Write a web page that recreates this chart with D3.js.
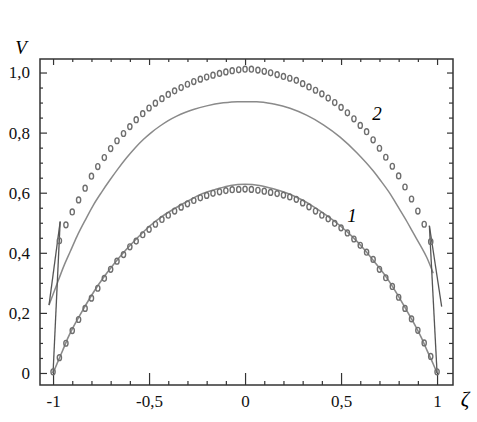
<!DOCTYPE html>
<html><head><meta charset="utf-8">
<script src="https://cdn.jsdelivr.net/npm/d3@7"></script>
<style>body{margin:0;background:#fff}svg{display:block}
svg text{font-family:"Liberation Serif","Times New Roman",Times,Tinos,serif}</style>
</head><body>
<script>
// ---- data ----
const xTicks = [-1, -0.5, 0, 0.5, 1];
const xTickLabels = ["-1", "-0,5", "0", "0,5", "1"];
const yTicks = [0, 0.2, 0.4, 0.6, 0.8, 1.0];
const yTickLabels = ["0", "0,2", "0,4", "0,6", "0,8", "1,0"];

// circle series 1 (lower)
const zeta1 = [-1.000,-0.967,-0.933,-0.900,-0.867,-0.833,-0.800,-0.767,-0.733,-0.700,-0.667,-0.633,-0.600,-0.567,-0.533,-0.500,-0.467,-0.433,-0.400,-0.367,-0.333,-0.300,-0.267,-0.233,-0.200,-0.167,-0.133,-0.100,-0.067,-0.033,0.000,
0.033,0.067,0.100,0.133,0.167,0.200,0.233,0.267,0.300,0.333,0.367,0.400,0.433,0.467,0.500,0.533,0.567,0.600,0.633,0.667,0.700,0.733,0.767,0.800,0.833,0.867,0.900,0.933,0.967,1.000];
const v1 = [0.004,0.051,0.099,0.141,0.178,0.215,0.249,0.282,0.315,0.345,0.372,0.394,0.420,0.439,0.460,0.478,0.495,0.511,0.525,0.539,0.552,0.563,0.574,0.583,0.591,0.598,0.603,0.607,0.610,0.611,0.612,
0.611,0.608,0.605,0.601,0.597,0.592,0.586,0.578,0.566,0.553,0.539,0.525,0.513,0.498,0.483,0.466,0.446,0.425,0.402,0.378,0.345,0.317,0.288,0.252,0.215,0.180,0.142,0.100,0.055,0.004];

// circle series 2 (upper)
const zeta2 = [-0.967,-0.933,-0.900,-0.867,-0.833,-0.800,-0.767,-0.733,-0.700,-0.667,-0.633,-0.600,-0.567,-0.533,-0.500,-0.467,-0.433,-0.400,-0.367,-0.333,-0.300,-0.267,-0.233,-0.200,-0.167,-0.133,-0.100,-0.067,-0.033,0.000,
0.033,0.067,0.100,0.133,0.167,0.200,0.233,0.267,0.300,0.333,0.367,0.400,0.433,0.467,0.500,0.533,0.567,0.600,0.633,0.667,0.700,0.733,0.767,0.800,0.833,0.867,0.900,0.933,0.967];
const v2 = [0.440,0.493,0.536,0.576,0.615,0.655,0.687,0.717,0.747,0.773,0.797,0.820,0.843,0.863,0.882,0.898,0.913,0.927,0.939,0.950,0.961,0.970,0.978,0.985,0.991,0.997,1.002,1.006,1.009,1.011,
1.011,1.008,1.004,0.999,0.993,0.987,0.981,0.974,0.963,0.952,0.941,0.929,0.915,0.900,0.884,0.866,0.846,0.824,0.803,0.776,0.748,0.718,0.688,0.656,0.619,0.579,0.539,0.495,0.437];

// solid curve 1
const zetaL1 = [-1.0,-0.98,-0.95,-0.92,-0.88,-0.84,-0.79,-0.74,-0.68,-0.62,-0.56,-0.495,-0.43,-0.36,-0.29,-0.22,-0.147,-0.075,0,0.075,0.147,0.22,0.29,0.36,0.43,0.495,0.56,0.62,0.68,0.74,0.79,0.84,0.88,0.92,0.95,0.98,1.0];
const vL1 = [0,0.03,0.075,0.12,0.17,0.215,0.268,0.315,0.365,0.41,0.45,0.49,0.522,0.55,0.575,0.597,0.612,0.624,0.628,0.624,0.613,0.598,0.578,0.552,0.522,0.49,0.453,0.412,0.365,0.315,0.265,0.21,0.165,0.115,0.072,0.03,0];

// solid curve 2
const zetaL2 = [-1.021,-0.983,-0.945,-0.91,-0.876,-0.833,-0.79,-0.746,-0.703,-0.66,-0.616,-0.573,-0.53,-0.487,-0.443,-0.40,-0.356,-0.313,-0.269,-0.2,-0.113,-0.04,0.061,0.15,0.234,0.32,0.408,0.495,0.582,0.668,0.703,0.755,0.79,0.842,0.876,0.91,0.946,0.98];
const vL2 = [0.226,0.290,0.354,0.405,0.454,0.508,0.559,0.603,0.643,0.681,0.717,0.749,0.777,0.801,0.822,0.840,0.855,0.867,0.877,0.889,0.899,0.903,0.903,0.895,0.881,0.858,0.826,0.785,0.733,0.672,0.643,0.597,0.560,0.505,0.466,0.428,0.385,0.332];

// short edge segments
const edgeSegs = [
  [[-1.0, 0], [-0.963, 0.504]],
  [[-1.021, 0.226], [-0.963, 0.504]],
  [[1.0, 0], [0.96, 0.49]],
  [[0.96, 0.49], [1.024, 0.221]]
];

// ---- drawing ----
const W = 477, H = 422;
const L = 40, R = 453, T = 59, B = 385;
const x = d3.scaleLinear().domain([-1.068, 1.083]).range([L, R]);
const y = d3.scaleLinear().domain([-0.04, 1.045]).range([B, T]);

const svg = d3.select("body").append("svg").attr("width", W).attr("height", H);

const minorX = d3.range(-10, 11).map(i => i / 10).filter(v => Math.abs(v * 2 - Math.round(v * 2)) > 1e-6);
const minorY = d3.range(0, 21).map(i => i / 20).filter(v => Math.abs(v * 5 - Math.round(v * 5)) > 1e-6);

function styleAxis(g) {
  g.select(".domain").remove();
  g.attr("font-family", null);
  g.selectAll(".tick line").attr("stroke", "#333").attr("stroke-width", 1.2);
  g.selectAll("text").attr("font-size", 17).attr("fill", "#111");
}

// bottom
svg.append("g").attr("transform", `translate(0,${B})`)
  .call(d3.axisBottom(x).tickValues(xTicks).tickSize(-12).tickPadding(10).tickFormat((d, i) => xTickLabels[i]))
  .call(styleAxis);
svg.append("g").attr("transform", `translate(0,${B})`)
  .call(d3.axisBottom(x).tickValues(minorX).tickSize(-4).tickFormat(""))
  .call(styleAxis);
// top
svg.append("g").attr("transform", `translate(0,${T})`)
  .call(d3.axisTop(x).tickValues(xTicks).tickSize(-6).tickFormat(""))
  .call(styleAxis);
svg.append("g").attr("transform", `translate(0,${T})`)
  .call(d3.axisTop(x).tickValues(minorX).tickSize(-3).tickFormat(""))
  .call(styleAxis);
// left
svg.append("g").attr("transform", `translate(${L},0)`)
  .call(d3.axisLeft(y).tickValues(yTicks).tickSize(-7).tickPadding(10).tickFormat((d, i) => yTickLabels[i]))
  .call(styleAxis);
svg.append("g").attr("transform", `translate(${L},0)`)
  .call(d3.axisLeft(y).tickValues(minorY).tickSize(-3).tickFormat(""))
  .call(styleAxis);
// right
svg.append("g").attr("transform", `translate(${R},0)`)
  .call(d3.axisRight(y).tickValues(yTicks).tickSize(-6).tickFormat(""))
  .call(styleAxis);
svg.append("g").attr("transform", `translate(${R},0)`)
  .call(d3.axisRight(y).tickValues(minorY).tickSize(-4).tickFormat(""))
  .call(styleAxis);

// frame
svg.append("rect").attr("x", L).attr("y", T).attr("width", R - L).attr("height", B - T)
  .attr("fill", "none").attr("stroke", "#333").attr("stroke-width", 1.5);

const line = d3.line().x(d => x(d[0])).y(d => y(d[1])).curve(d3.curveMonotoneX);
const seg = d3.line().x(d => x(d[0])).y(d => y(d[1]));

// solid curves
svg.append("path").datum(zetaL1.map((z, i) => [z, vL1[i]])).attr("d", line)
  .attr("fill", "none").attr("stroke", "#8a8a8a").attr("stroke-width", 1.6);
svg.append("path").datum(zetaL2.map((z, i) => [z, vL2[i]])).attr("d", line)
  .attr("fill", "none").attr("stroke", "#8a8a8a").attr("stroke-width", 1.5);

// edge segments
svg.append("g").selectAll("path").data(edgeSegs).join("path")
  .attr("d", seg).attr("fill", "none").attr("stroke", "#555").attr("stroke-width", 1.3);

// circles
function circles(zs, vs) {
  svg.append("g").selectAll("ellipse").data(zs.map((z, i) => [z, vs[i]])).join("ellipse")
    .attr("cx", d => x(d[0])).attr("cy", d => y(d[1]))
    .attr("rx", 2.1).attr("ry", 2.9)
    .attr("fill", "none").attr("stroke", "#6e6e6e").attr("stroke-width", 1.4);
}
circles(zeta1, v1);
circles(zeta2, v2);

// labels
svg.append("text").attr("x", 21).attr("y", 54).attr("text-anchor", "middle")
  .attr("font-style", "italic").attr("font-size", 19).text("V");
svg.append("text").attr("x", 465).attr("y", 406).attr("text-anchor", "middle")
  .attr("font-style", "italic").attr("font-size", 21).text("ζ");
svg.append("text").attr("x", 377).attr("y", 120).attr("text-anchor", "middle")
  .attr("font-style", "italic").attr("font-size", 19).text("2");
svg.append("text").attr("x", 352).attr("y", 222).attr("text-anchor", "middle")
  .attr("font-style", "italic").attr("font-size", 19).text("1");
</script>
</body></html>
